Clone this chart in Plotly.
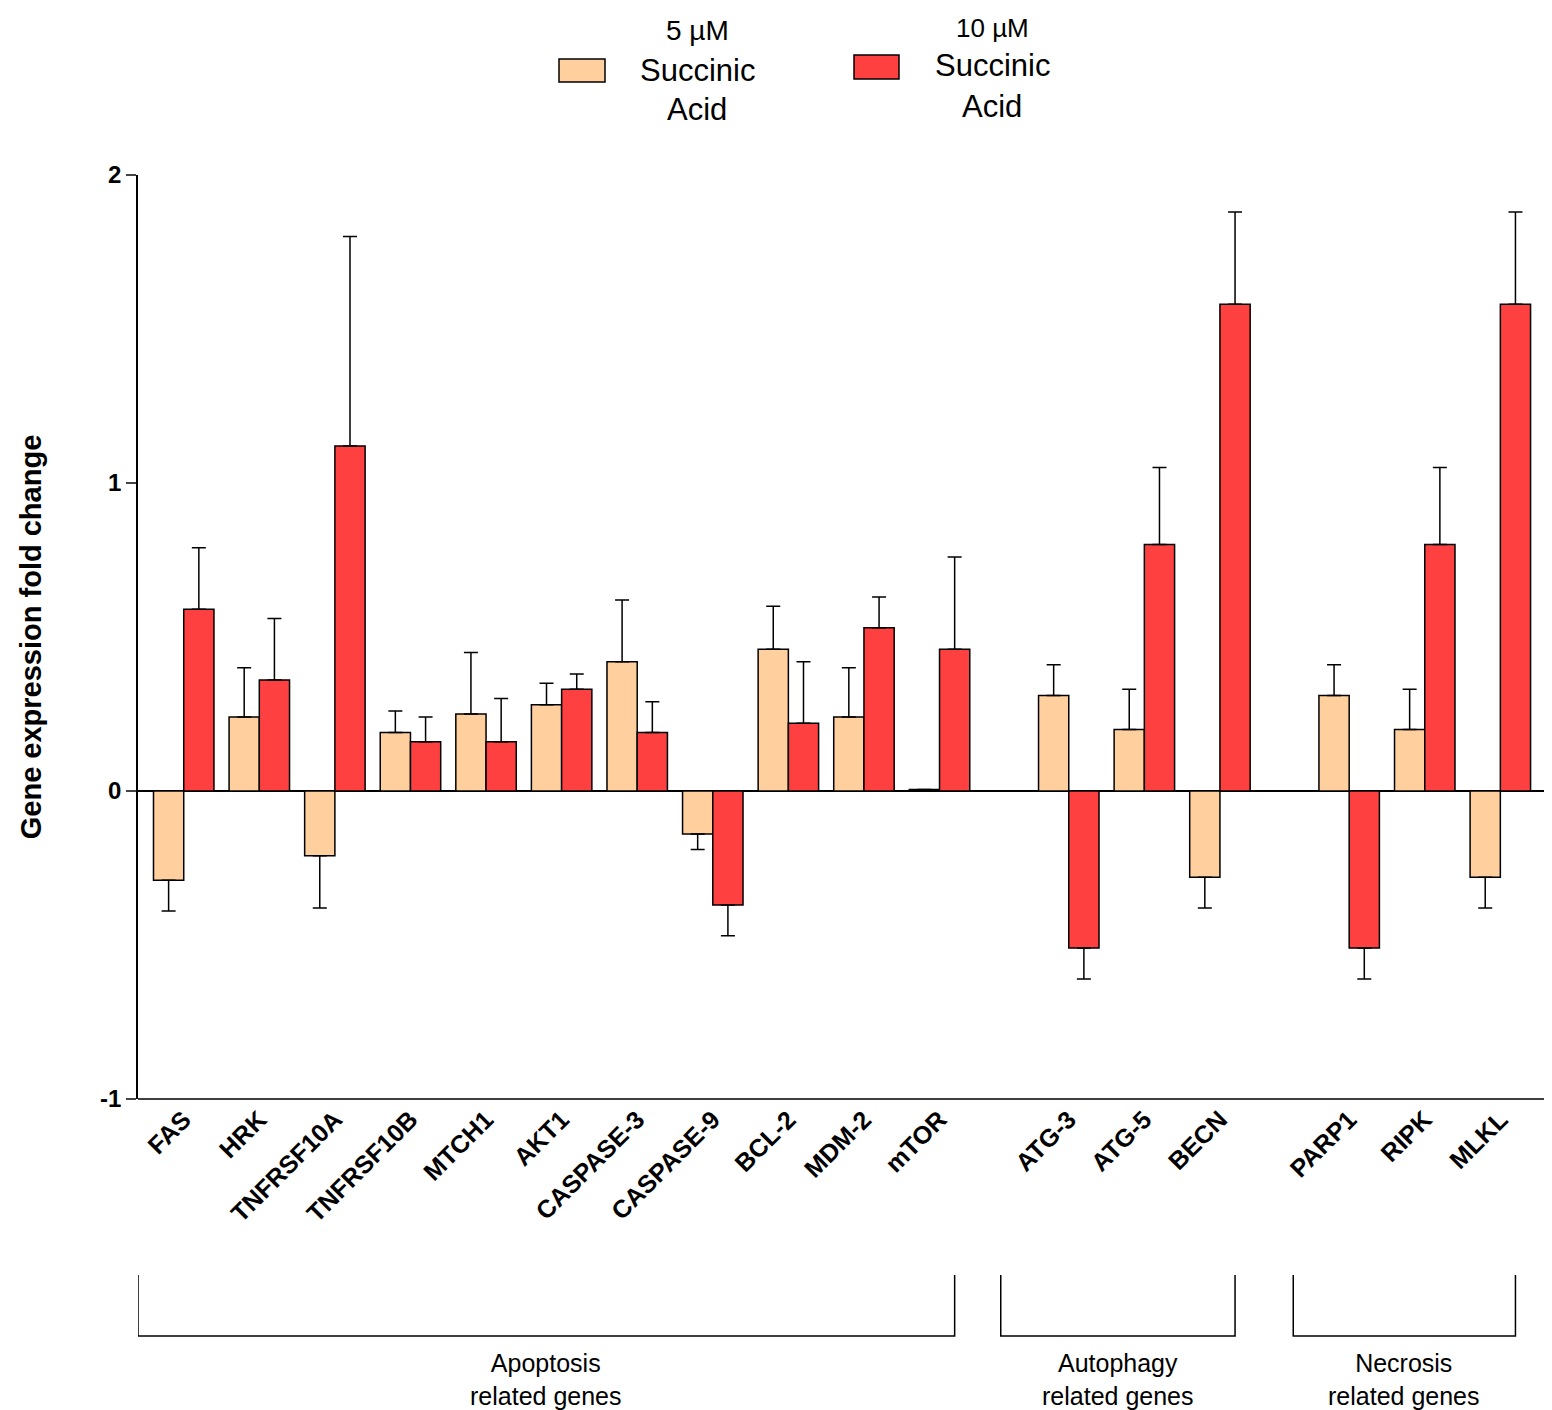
import plotly.graph_objects as go

genes = ["FAS","HRK","TNFRSF10A","TNFRSF10B","MTCH1","AKT1","CASPASE-3","CASPASE-9","BCL-2","MDM-2","mTOR",
         "ATG-3","ATG-5","BECN","PARP1","RIPK","MLKL"]
group_sizes = [11, 3, 3]
group_names = ["Apoptosis<br>related genes", "Autophagy<br>related genes", "Necrosis<br>related genes"]
low_vals = [-0.29,0.24,-0.21,0.19,0.25,0.28,0.42,-0.14,0.46,0.24,0.005,0.31,0.20,-0.28,0.31,0.20,-0.28]
low_err  = [0.10,0.16,0.17,0.07,0.20,0.07,0.20,0.05,0.14,0.16,0.0,0.10,0.13,0.10,0.10,0.13,0.10]
high_vals = [0.59,0.36,1.12,0.16,0.16,0.33,0.19,-0.37,0.22,0.53,0.46,-0.51,0.80,1.58,-0.51,0.80,1.58]
high_err  = [0.20,0.20,0.68,0.08,0.14,0.05,0.10,0.10,0.20,0.10,0.30,0.10,0.25,0.30,0.10,0.25,0.30]

GAP = 0.71
pos = []
start = 0.0
for gi, n in enumerate(group_sizes):
    for k in range(n):
        pos.append(start + k)
    start += n + GAP
group_bounds = []
i = 0
for n in group_sizes:
    group_bounds.append((pos[i], pos[i+n-1])); i += n

def errs(vals, e):
    up = [x if v >= 0 else 0 for v, x in zip(vals, e)]
    dn = [x if v < 0 else 0 for v, x in zip(vals, e)]
    return dict(type="data", symmetric=False, array=up, arrayminus=dn,
                color="black", thickness=1.5, width=7)

fig = go.Figure()
fig.add_bar(x=pos, y=low_vals, width=0.4, offset=-0.4, marker=dict(color="#FFD09E", line=dict(color="black", width=1.5)),
            error_y=errs(low_vals, low_err))
fig.add_bar(x=pos, y=high_vals, width=0.4, offset=0, marker=dict(color="#FF4040", line=dict(color="black", width=1.5)),
            error_y=errs(high_vals, high_err))

F = "Liberation Sans, Arial"
W, H = 1416, 924
def px(x): return (x-130)/W
def py(y): return (1091-y)/H

shapes, ann = [], []
for (x0,y0,x1,y1,c) in [(551,51,597,74,"#FFD09E"),(846,47,891,71,"#FF4040")]:
    shapes.append(dict(type="rect", xref="paper", yref="paper", x0=px(x0), x1=px(x1), y0=py(y1), y1=py(y0),
                       fillcolor=c, line=dict(color="black", width=1.5)))
for (x,y,t,s) in [(689,22,"5 µM",28),(689,62,"Succinic",31),(689,102,"Acid",31),
                  (984,20,"10 µM",26),(984,58,"Succinic",31),(984,98,"Acid",31)]:
    ann.append(dict(xref="paper", yref="paper", x=px(x), y=py(y), text=t, showarrow=False,
                    font=dict(size=s, family=F, color="black"), xanchor="center", yanchor="middle"))
brackets = [(group_bounds[0][0]-0.605, group_bounds[0][1]+0.2),
            (group_bounds[1][0]-0.9, group_bounds[1][1]+0.2),
            (group_bounds[2][0]-0.74, group_bounds[2][1]+0.2)]
for (a,b), name in zip(brackets, group_names):
    shapes.append(dict(type="path", xref="x", yref="paper",
                       path=f"M {a},{py(1267)} L {a},{py(1328)} L {b},{py(1328)} L {b},{py(1267)}",
                       line=dict(color="black", width=1.5)))
    ann.append(dict(xref="x", yref="paper", x=(a+b)/2, y=py(1371), text=name, showarrow=False,
                    font=dict(size=25, family=F, color="black"), xanchor="center", yanchor="middle"))

fig.update_layout(
    width=1552, height=1410, showlegend=False, plot_bgcolor="white", paper_bgcolor="white",
    margin=dict(l=130, r=6, t=167, b=319, autoexpand=False), font=dict(family=F, color="black"),
    shapes=shapes, annotations=ann,
    xaxis=dict(range=[-0.605, pos[-1]+0.71], tickvals=pos, ticktext=[f"<b>{g}</b>" for g in genes],
               tickangle=-45, tickfont=dict(size=25), showline=False, ticks="", showgrid=False, zeroline=False,
               automargin=False),
    yaxis=dict(range=[-1, 2], tickvals=[-1,0,1,2], ticktext=["<b>-1</b>","<b>0</b>","<b>1</b>","<b>2</b>"],
               tickfont=dict(size=24), ticks="outside", ticklen=10, tickwidth=1.5, showline=True, linecolor="black",
               linewidth=1.5, showgrid=False, zeroline=True, zerolinecolor="black", zerolinewidth=1.5, automargin=False,
               title=dict(text="<b>Gene expression fold change</b>", font=dict(size=29), standoff=50)),
)
fig.add_shape(type="line", xref="paper", yref="paper", x0=0, x1=1, y0=0, y1=0, line=dict(color="black", width=1.5))
fig.write_html("out.html")
